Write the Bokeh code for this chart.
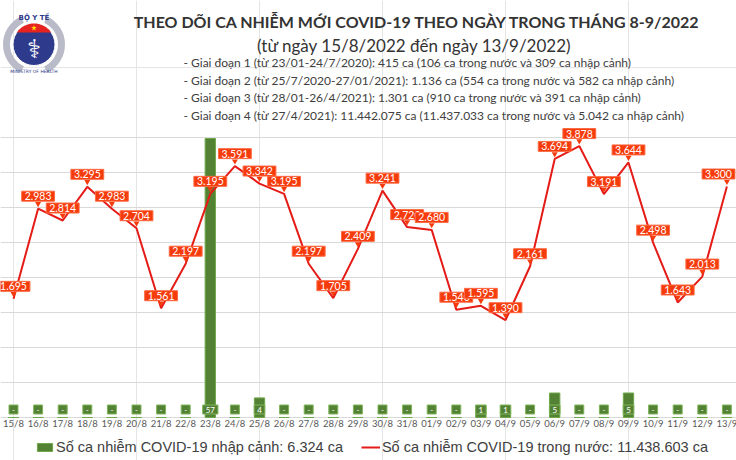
import numpy as np
from bokeh.plotting import figure
from bokeh.models import (Range1d, Grid, FixedTicker, Label, Legend,
                          LegendItem, ColumnDataSource)
from bokeh.core.properties import value
from bokeh.embed import file_html
from bokeh.resources import INLINE

# ---------------- data ----------------
CATEGORIES = ["15/8", "16/8", "17/8", "18/8", "19/8", "20/8", "21/8", "22/8", "23/8", "24/8",
              "25/8", "26/8", "27/8", "28/8", "29/8", "30/8", "31/8", "01/9", "02/9", "03/9",
              "04/9", "05/9", "06/9", "07/9", "08/9", "09/9", "10/9", "11/9", "12/9", "13/9"]
DOMESTIC = [1695, 2983, 2814, 3295, 2983, 2704, 1561, 2197, 3195, 3591,
            3342, 3195, 2197, 1705, 2409, 3241, 2720, 2680, 1540, 1595,
            1390, 2161, 3694, 3878, 3191, 3644, 2498, 1643, 2013, 3300]
IMPORTED = [0, 0, 0, 0, 0, 0, 0, 0, 57, 0,
            4, 0, 0, 0, 0, 0, 0, 0, 0, 1,
            1, 0, 5, 0, 0, 5, 0, 0, 0, 0]
GRID_TICKS = [0, 500, 1000, 1500, 2000, 2500, 3000, 3500, 4000]

TITLE = "THEO DÕI CA NHIỄM MỚI COVID-19 THEO NGÀY TRONG THÁNG 8-9/2022"
SUBTITLE = "(từ ngày 15/8/2022 đến ngày 13/9/2022)"
NOTES = [
    "- Giai đoạn 1 (từ 23/01-24/7/2020): 415 ca (106 ca trong nước và 309 ca nhập cảnh)",
    "- Giai đoạn 2 (từ 25/7/2020-27/01/2021): 1.136 ca (554 ca trong nước và 582 ca nhập cảnh)",
    "- Giai đoạn 3 (từ 28/01-26/4/2021): 1.301 ca (910 ca trong nước và 391 ca nhập cảnh)",
    "- Giai đoạn 4 (từ 27/4/2021): 11.442.075 ca (11.437.033 ca trong nước và 5.042 ca nhập cảnh)",
]
LEGEND_IMPORTED = "Số ca nhiễm COVID-19 nhập cảnh: 6.324 ca"
LEGEND_DOMESTIC = "Số ca nhiễm COVID-19 trong nước: 11.438.603 ca"

# ---------------- layout / style ----------------
W, H = 736, 460
BASE_PX = 43        # baseline (value 0) measured from the bottom of the canvas
TOP_PX = 323        # highest gridline measured from the bottom
BAR_TOP_PX = 322    # where the tallest bar reaches
X_FIRST_PX = 13     # centre of the first category
X_STEP_PX = 24.6    # distance between categories
LABEL_HALF_W = 17   # half width of a value box, used to keep boxes inside the canvas

FONT = "Lato"
RED_LINE = "#E41B17"
RED_BOX = "#F53B0C"
GREEN = "#548235"
GREEN_EDGE = "#7FB55A"
TEXT = "#404040"

XPOS = list(range(len(CATEGORIES)))
ky = (TOP_PX - BASE_PX) / GRID_TICKS[-1]
kb = (BAR_TOP_PX - BASE_PX) / max(IMPORTED)


def fmt(v):
    return f"{v:,}".replace(",", ".")


p = figure(width=W, height=H,
           x_range=Range1d(-X_FIRST_PX / X_STEP_PX, (W - X_FIRST_PX) / X_STEP_PX),
           y_range=Range1d(-BASE_PX / ky, (H - BASE_PX) / ky),
           x_axis_location=None, y_axis_location=None,
           output_backend="svg", toolbar_location=None,
           min_border=0, outline_line_color=None)
p.extra_y_ranges = {"bars": Range1d(-BASE_PX / kb, (H - BASE_PX) / kb),
                    "px": Range1d(0, H)}
p.extra_x_ranges = {"px": Range1d(0, W)}

p.add_layout(Grid(dimension=1, ticker=FixedTicker(ticks=GRID_TICKS),
                  grid_line_color="#D9D9D9", grid_line_width=1))

# category labels along the baseline
tick_src = ColumnDataSource(dict(x=XPOS, y=[0] * len(XPOS), t=CATEGORIES))
p.text(x="x", y="y", text="t", source=tick_src, y_offset=6,
       text_align="center", text_baseline="middle", text_color="#595959",
       text_font=value(FONT), text_font_size="9.5px")

# bars (imported cases)
bars = p.vbar(x=XPOS, top=IMPORTED, width=0.42, y_range_name="bars",
              fill_color=GREEN, line_color="#6FA84A", line_width=1)
bar_src = ColumnDataSource(dict(x=XPOS, y=[0] * len(XPOS),
                                t=["-" if v == 0 else str(v) for v in IMPORTED]))
p.text(x="x", y="y", text="t", source=bar_src, y_range_name="bars", y_offset=-8,
       text_align="center", text_baseline="middle", text_color="white",
       text_font=value(FONT), text_font_size="8px",
       background_fill_color=GREEN, border_line_color=GREEN_EDGE,
       padding=dict(left=3, right=3, top=2, bottom=1))

# line (domestic cases)
line = p.line(XPOS, DOMESTIC, line_color=RED_LINE, line_width=2)

# small callout pointers under the value boxes
p.scatter(x=XPOS, y=[v + 5 / ky for v in DOMESTIC], marker="inverted_triangle", size=6,
          fill_color=RED_BOX, line_color=None)

# value boxes, shifted only where a box would leave the canvas
dx = []
for i in XPOS:
    cx_px = X_FIRST_PX + i * X_STEP_PX
    dx.append(min(0, W - 1 - LABEL_HALF_W - cx_px))
lab_src = ColumnDataSource(dict(x=XPOS, y=DOMESTIC, dx=dx, t=[fmt(v) for v in DOMESTIC]))
p.text(x="x", y="y", text="t", source=lab_src, x_offset="dx", y_offset=-12.5,
       text_align="center", text_baseline="middle", text_color="white",
       text_font=value(FONT), text_font_size="10.5px",
       background_fill_color=RED_BOX, border_line_color="#FF6B45",
       padding=dict(left=3, right=3, top=1, bottom=1))

# titles
p.add_layout(Label(x=417, y=H - 21, x_units="screen", y_units="screen", text=TITLE,
                   text_align="center", text_baseline="middle", text_font=FONT,
                   text_font_size="16px", text_font_style="bold", text_color="#333333"))
p.add_layout(Label(x=414, y=H - 45, x_units="screen", y_units="screen", text=SUBTITLE,
                   text_align="center", text_baseline="middle", text_font=FONT,
                   text_font_size="17px", text_color="#333333"))
for i, note in enumerate(NOTES):
    p.add_layout(Label(x=183, y=H - (62 + i * 17.7), x_units="screen", y_units="screen",
                       text=note, text_align="left", text_baseline="middle", text_font=FONT,
                       text_font_size="12px", text_color=TEXT))

# logo (decoration, in pixel coordinates)
cx, cy, r = 33.5, H - 44, 21
for a0, a1 in [(115, 245), (-65, 65)]:
    p.annular_wedge(x=[cx], y=[cy], inner_radius=24, outer_radius=31,
                    inner_radius_units="screen", outer_radius_units="screen",
                    start_angle=np.radians(a0), end_angle=np.radians(a1),
                    x_range_name="px", y_range_name="px",
                    fill_color="#B9BCC8", line_color=None)
p.scatter(x=[cx], y=[cy], size=2 * r, marker="circle", fill_color="#2E3A8C",
          line_color="white", line_width=1, x_range_name="px", y_range_name="px")
d = r - 9
th = np.linspace(np.arcsin(d / r), np.pi - np.arcsin(d / r), 30)
p.patch(x=list(cx + r * np.cos(th)), y=list(cy + r * np.sin(th)), fill_color="#E52421",
        line_color=None, x_range_name="px", y_range_name="px")
p.scatter(x=[cx], y=[cy + r - 4.5], size=6, marker="star", fill_color="#FFDD00",
          line_color=None, x_range_name="px", y_range_name="px")
p.text(x=[cx], y=[cy - 4], text=["⚕"], x_range_name="px", y_range_name="px",
       text_align="center", text_baseline="middle", text_color="white",
       text_font=value("DejaVu Sans"), text_font_size="26px")
p.text(x=[cx], y=[cy + r + 6], text=["BỘ Y TẾ"], x_range_name="px", y_range_name="px",
       text_align="center", text_baseline="middle", text_color="#2E3A8C",
       text_font=value("DejaVu Sans"), text_font_size="7px", text_font_style="bold")
p.text(x=[cx], y=[cy - r - 6], text=["MINISTRY OF HEALTH"], x_range_name="px",
       y_range_name="px", text_align="center", text_baseline="middle",
       text_color="#2E3A8C", text_font=value("DejaVu Sans"), text_font_size="4.5px")

# legend
legend = Legend(items=[LegendItem(label=LEGEND_IMPORTED, renderers=[bars]),
                       LegendItem(label=LEGEND_DOMESTIC, renderers=[line])],
                orientation="horizontal", location=(35, 5),
                label_text_font="Liberation Sans", label_text_font_size="14.5px",
                label_text_color=TEXT, glyph_width=19, glyph_height=10,
                label_standoff=2, spacing=18, padding=0, margin=0,
                label_height=16, border_line_color=None, background_fill_alpha=0)
p.add_layout(legend)

open("out.html", "w").write(file_html(p, INLINE))
